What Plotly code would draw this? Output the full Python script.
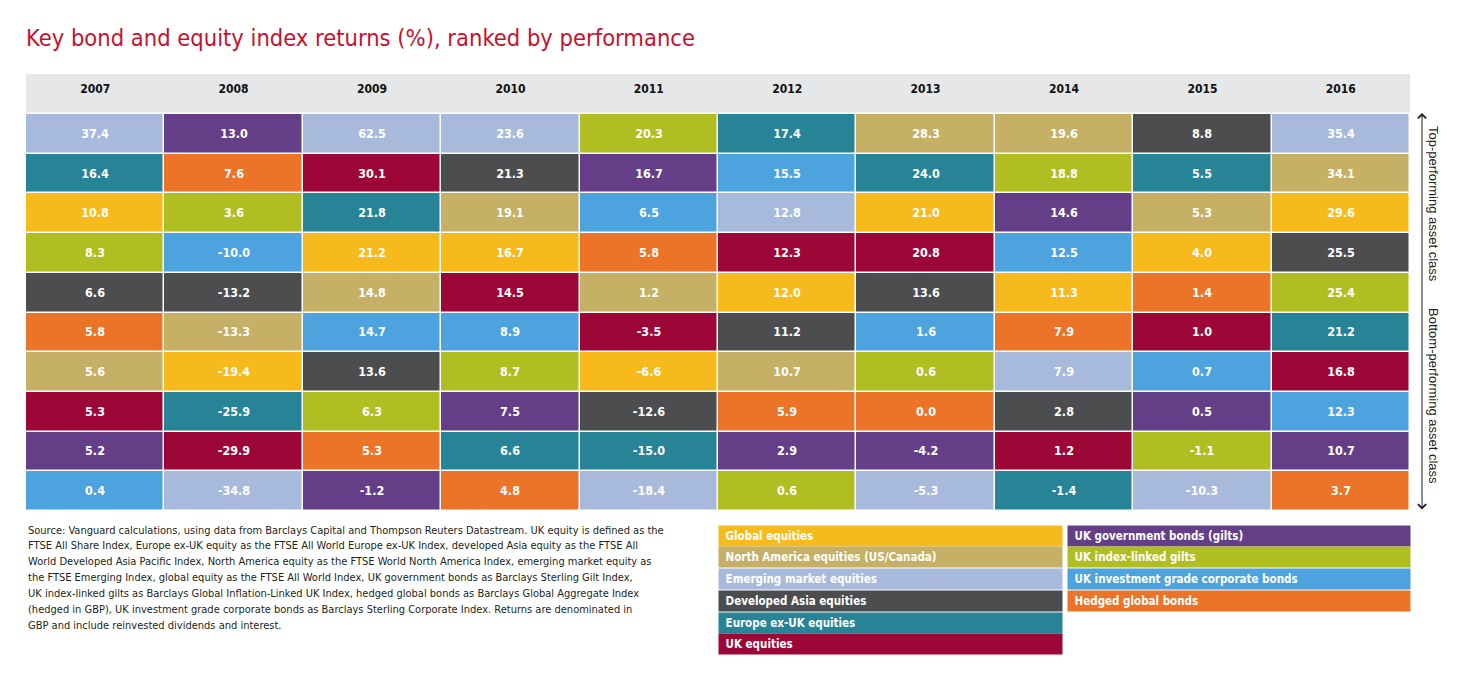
import plotly.graph_objects as go

# ---------------- data ----------------
years = ["2007", "2008", "2009", "2010", "2011", "2012", "2013", "2014", "2015", "2016"]
ranks = list(range(1, 11))

asset_codes = ["GLB", "NA", "EM", "ASIA", "EUR", "UK", "GILT", "ILG", "CORP", "HEDGE"]
asset_names = [
    "Global equities",
    "North America equities (US/Canada)",
    "Emerging market equities",
    "Developed Asia equities",
    "Europe ex-UK equities",
    "UK equities",
    "UK government bonds (gilts)",
    "UK index-linked gilts",
    "UK investment grade corporate bonds",
    "Hedged global bonds",
]
asset_colors = ["#F7BA1C", "#C5B065", "#A7BADB", "#4C4D4F", "#268496",
                "#9D0737", "#643F88", "#B1BE22", "#4DA3DD", "#EC7429"]

# ranked asset classes per year (top -> bottom)
ranked_assets = [
    ["EM", "EUR", "GLB", "ILG", "ASIA", "HEDGE", "NA", "UK", "GILT", "CORP"],
    ["GILT", "HEDGE", "ILG", "CORP", "ASIA", "NA", "GLB", "EUR", "UK", "EM"],
    ["EM", "UK", "EUR", "GLB", "NA", "CORP", "ASIA", "ILG", "HEDGE", "GILT"],
    ["EM", "ASIA", "NA", "GLB", "UK", "CORP", "ILG", "GILT", "EUR", "HEDGE"],
    ["ILG", "GILT", "CORP", "HEDGE", "NA", "UK", "GLB", "ASIA", "EUR", "EM"],
    ["EUR", "CORP", "EM", "UK", "GLB", "ASIA", "NA", "HEDGE", "GILT", "ILG"],
    ["NA", "EUR", "GLB", "UK", "ASIA", "CORP", "ILG", "HEDGE", "GILT", "EM"],
    ["NA", "ILG", "GILT", "CORP", "GLB", "HEDGE", "EM", "ASIA", "UK", "EUR"],
    ["ASIA", "EUR", "NA", "GLB", "HEDGE", "UK", "CORP", "GILT", "ILG", "EM"],
    ["EM", "NA", "GLB", "ASIA", "ILG", "EUR", "UK", "CORP", "GILT", "HEDGE"],
]
ranked_returns = [
    [37.4, 16.4, 10.8, 8.3, 6.6, 5.8, 5.6, 5.3, 5.2, 0.4],
    [13.0, 7.6, 3.6, -10.0, -13.2, -13.3, -19.4, -25.9, -29.9, -34.8],
    [62.5, 30.1, 21.8, 21.2, 14.8, 14.7, 13.6, 6.3, 5.3, -1.2],
    [23.6, 21.3, 19.1, 16.7, 14.5, 8.9, 8.7, 7.5, 6.6, 4.8],
    [20.3, 16.7, 6.5, 5.8, 1.2, -3.5, -6.6, -12.6, -15.0, -18.4],
    [17.4, 15.5, 12.8, 12.3, 12.0, 11.2, 10.7, 5.9, 2.9, 0.6],
    [28.3, 24.0, 21.0, 20.8, 13.6, 1.6, 0.6, 0.0, -4.2, -5.3],
    [19.6, 18.8, 14.6, 12.5, 11.3, 7.9, 7.9, 2.8, 1.2, -1.4],
    [8.8, 5.5, 5.3, 4.0, 1.4, 1.0, 0.7, 0.5, -1.1, -10.3],
    [35.4, 34.1, 29.6, 25.5, 25.4, 21.2, 16.8, 12.3, 10.7, 3.7],
]

legend_left = ["GLB", "NA", "EM", "ASIA", "EUR", "UK"]
legend_right = ["GILT", "ILG", "CORP", "HEDGE"]

title_text = "Key bond and equity index returns (%), ranked by performance"
source_lines = [
    "Source: Vanguard calculations, using data from Barclays Capital and Thompson Reuters Datastream. UK equity is defined as the",
    "FTSE All Share Index, Europe ex-UK equity as the FTSE All World Europe ex-UK Index, developed Asia equity as the FTSE All",
    "World Developed Asia Pacific Index, North America equity as the FTSE World North America Index, emerging market equity as",
    "the FTSE Emerging Index, global equity as the FTSE All World Index, UK government bonds as Barclays Sterling Gilt Index,",
    "UK index-linked gilts as Barclays Global Inflation-Linked UK Index, hedged global bonds as Barclays Global Aggregate Index",
    "(hedged in GBP), UK investment grade corporate bonds as Barclays Sterling Corporate Index. Returns are denominated in",
    "GBP and include reinvested dividends and interest.",
]

# ---------------- layout geometry ----------------
# page body has an 8px margin; work in screen coordinates and subtract it
OX, OY = 8, 8
W, H = 1471 - 2 * OX, 676 - 2 * OY
SL, SR, ST, SB = 26, 1410, 114, 511          # plot area in screen pixels
PL, PR, PT, PB = SL - OX, SR - OX, ST - OY, SB - OY
NARROW = "DejaVu Sans Condensed, Liberation Sans Narrow, Arial Narrow, sans-serif"
REG = "Liberation Sans, Arial, sans-serif"


def px(xs):
    return (xs - SL) / (SR - SL)


def py(ys):
    return (SB - ys) / (SB - ST)


# ---------------- build matrices ----------------
n = len(asset_codes)
z = [[asset_codes.index(ranked_assets[c][r]) for c in range(len(years))] for r in range(len(ranks))]
txt = [[f"{ranked_returns[c][r]:.1f}" for c in range(len(years))] for r in range(len(ranks))]
names = [[asset_names[asset_codes.index(ranked_assets[c][r])] for c in range(len(years))] for r in range(len(ranks))]

colorscale = []
for i, col in enumerate(asset_colors):
    colorscale.append([i / n, col])
    colorscale.append([(i + 1) / n, col])

fig = go.Figure()
fig.add_trace(go.Heatmap(
    x=years, y=ranks, z=z, text=txt, customdata=names,
    texttemplate="<b>%{text}</b>",
    textfont=dict(family=NARROW, size=12.5, color="white"),
    colorscale=colorscale, zmin=-0.5, zmax=n - 0.5, showscale=False,
    xgap=1.5, ygap=1.5,
    hovertemplate="%{x}<br>%{customdata}: %{text}%<extra></extra>",
))

# header background
fig.add_shape(type="rect", xref="paper", yref="paper", x0=0, x1=1,
              y0=py(112.5), y1=py(74), fillcolor="#E6E7E8", line_width=0, layer="below")

annotations = []
# source text, one line per annotation for the original line spacing
for i, line in enumerate(source_lines):
    annotations.append(dict(
        xref="paper", yref="paper", x=0, y=py(530 + i * 15.95), xanchor="left", yanchor="middle",
        align="left", showarrow=False, text=line,
        font=dict(family=NARROW, size=11, color="#231F20"),
    ))

# legend blocks
leg_top, leg_step, leg_h = 526, 21.7, 19.5
for col_codes, x0, wdt in [(legend_left, 718, 343), (legend_right, 1067, 342)]:
    for i, code in enumerate(col_codes):
        k = asset_codes.index(code)
        yc = leg_top + i * leg_step + leg_h / 2
        annotations.append(dict(
            xref="paper", yref="paper", x=px(x0), y=py(yc), xanchor="left", yanchor="middle",
            width=wdt, height=leg_h, align="left", valign="middle", showarrow=False,
            bgcolor=asset_colors[k], borderpad=0,
            text="&nbsp;&nbsp;<b>" + asset_names[k] + "</b>",
            font=dict(family=NARROW, size=11.5, color="white"),
        ))

# double-headed arrow on the right
annotations.append(dict(
    xref="paper", yref="paper", x=px(1422), y=py(113), ax=0, ay=SB - 113,
    axref="pixel", ayref="pixel", text="", showarrow=True,
    arrowhead=4, startarrowhead=4, arrowside="end+start",
    arrowsize=1.6, startarrowsize=1.6, arrowwidth=1, arrowcolor="#231F20",
))
annotations.append(dict(
    xref="paper", yref="paper", x=px(1434), y=py(204), xanchor="center", yanchor="middle",
    textangle=90, showarrow=False,
    text="Top-performing asset class", font=dict(family=REG, size=13, color="#231F20"),
))
annotations.append(dict(
    xref="paper", yref="paper", x=px(1434), y=py(396), xanchor="center", yanchor="middle",
    textangle=90, showarrow=False,
    text="Bottom-performing asset class", font=dict(family=REG, size=13, color="#231F20"),
))

fig.update_layout(
    width=W, height=H,
    margin=dict(l=PL, r=W - PR, t=PT, b=H - PB, pad=0),
    paper_bgcolor="white", plot_bgcolor="white",
    title=dict(text=title_text, x=(26 - OX) / W, xanchor="left", xref="container",
               y=1 - (38 - OY) / H, yanchor="middle", yref="container",
               font=dict(family=NARROW, size=23.5, color="#C8102E")),
    xaxis=dict(side="top", type="category", showgrid=False, zeroline=False, showline=False,
               ticks="", tickfont=dict(family=NARROW, size=12, color="#111111", weight="bold"),
               ticklabelstandoff=18, fixedrange=True),
    yaxis=dict(autorange="reversed", showticklabels=False, showgrid=False, zeroline=False,
               ticks="", fixedrange=True),
    annotations=annotations,
)

fig.write_html("out.html")
